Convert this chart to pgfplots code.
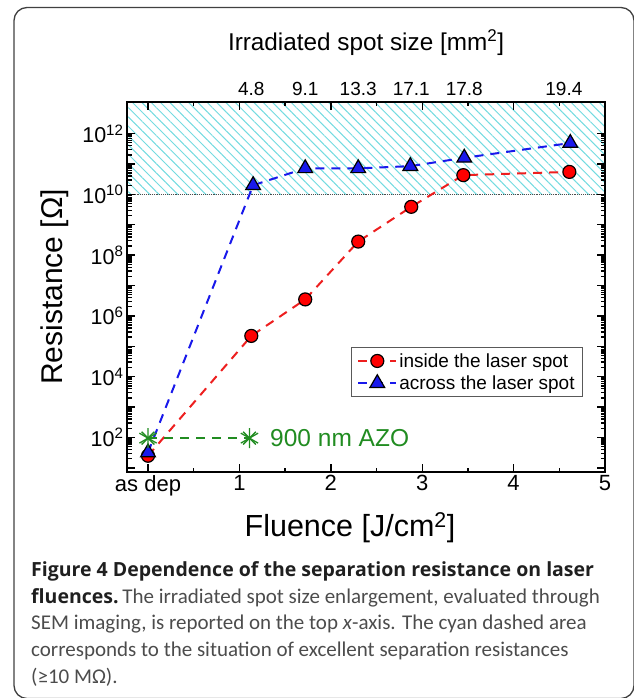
\documentclass[border=0pt]{standalone}
\usepackage{pgfplots}
\pgfplotsset{compat=1.18}
\usepackage{fontspec}
\setmainfont{Liberation Sans}
\newfontfamily\capreg{Carlito}
\newfontfamily\capbold{Open Sans}
\usetikzlibrary{patterns.meta}

\definecolor{rline}{rgb}{0.93,0.12,0.12}
\definecolor{bline}{rgb}{0.1,0.1,0.92}
\definecolor{gline}{rgb}{0.13,0.55,0.13}
\definecolor{hatch}{rgb}{0.45,0.86,0.88}
\definecolor{framec}{gray}{0.25}
\definecolor{captxt}{gray}{0.3}
\definecolor{capbf}{gray}{0.12}

\begin{document}
\begin{tikzpicture}[x=1pt,y=1pt]
\useasboundingbox (0,0) rectangle (633,698);
% outer frame, runs off the right and bottom edges
\draw[framec, line width=1.3pt, rounded corners=13pt] (14,-0.5) rectangle (634,690.5);

\begin{axis}[
  at={(127pt,226pt)}, anchor=south west,
  scale only axis, width=478pt, height=370pt,
  xmin=-0.23, xmax=5,
  ymode=log, ymin=7.3, ymax=1.1e13,
  axis line style={line width=2.2pt},
  axis on top,
  xtick={0,1,2,3,4,5},
  xticklabels={as dep,1,2,3,4,5},
  minor xtick={0.5,1.5,2.5,3.5,4.5},
  ytickten={1,...,12},
  yticklabels={,10\textsuperscript{2},,10\textsuperscript{4},,10\textsuperscript{6},,10\textsuperscript{8},,10\textsuperscript{10},,10\textsuperscript{12}},
  tick style={black, line width=1.4pt},
  major tick length=8pt, minor tick length=4.5pt,
  tick align=inside,
  x tick label style={font=\fontsize{22}{25}\selectfont},
  y tick label style={font=\fontsize{21.5}{24}\selectfont},
  legend style={at={(0.954,0.338)}, anchor=north east, draw=gray!70!black,
    line width=0.8pt, font=\fontsize{19}{23}\selectfont, row sep=3pt,
    inner xsep=6pt, inner ysep=4pt},
  legend cell align=left,
  legend image code/.code={\draw[mark repeat=2,mark phase=2,#1]
    plot coordinates {(0pt,0pt)(19pt,0pt)(38pt,0pt)};},
]
% region of excellent separation resistance
\fill[pattern={Lines[angle=-45,distance=6.6pt,line width=1pt]}, pattern color=hatch]
  (axis cs:-0.23,1e10) rectangle (axis cs:5,1.1e13);
\draw[densely dotted, line width=0.9pt, black!70] (axis cs:-0.23,1e10) -- (axis cs:5,1e10);

\addplot[rline, line width=2pt, dash pattern=on 9pt off 7pt, mark=*, mark size=6.5pt,
  mark options={solid, fill=red, draw=black, line width=1.2pt}] table {
x y
0 25
1.13 2.2e5
1.72 3.5e6
2.30 2.8e8
2.88 3.9e9
3.45 4.3e10
4.61 5.5e10
};
\addlegendentry{inside the laser spot}

\addplot[bline, line width=2pt, dash pattern=on 9pt off 7pt, mark=triangle*, mark size=8.5pt,
  mark options={solid, fill=bline, draw=black, line width=1.2pt}] table {
x y
0 32
1.15 2.0e10
1.72 7.2e10
2.30 7.2e10
2.87 8.5e10
3.46 1.6e11
4.62 4.9e11
};
\addlegendentry{across the laser spot}

\addplot[gline, line width=2pt, dash pattern=on 9pt off 7pt, mark=asterisk, mark size=10pt,
  mark options={solid, line width=1.3pt}, forget plot] table {
x y
0 95
1.11 95
};
\addplot[gline, only marks, mark=x, mark size=9pt,
  mark options={line width=1.3pt}, forget plot] table {
x y
0 95
1.11 95
};
\node[gline, anchor=west, inner sep=0pt, font=\fontsize{24.5}{28}\selectfont]
  at (axis cs:1.335,95) {900 nm AZO};
\end{axis}

% top axis: irradiated spot size
\begin{axis}[
  at={(127pt,226pt)}, anchor=south west,
  scale only axis, width=478pt, height=370pt,
  xmin=-0.23, xmax=5, ymin=0, ymax=1,
  axis x line*=top, axis y line=none,
  axis line style={draw=none},
  xtick={1.13,1.72,2.30,2.88,3.46,4.55},
  xticklabels={4.8,9.1,13.3,17.1,17.8,19.4},
  major tick length=0pt,
  x tick label style={font=\fontsize{19}{22}\selectfont, yshift=3pt},
]
\end{axis}

% axis titles
\node[anchor=base, font=\fontsize{24.3}{28}\selectfont] at (366,647) {Irradiated spot size [mm\textsuperscript{2}]};
\node[anchor=base, font=\fontsize{30.5}{34}\selectfont] at (350,161) {Fluence [J/cm\textsuperscript{2}]};
\node[anchor=base, rotate=90, font=\fontsize{30}{34}\selectfont] at (62,411) {Resistance [Ω]};

% caption
\begin{scope}[every node/.style={anchor=base west, inner sep=0pt}]
\node[capbf, font=\capbold\bfseries\fontsize{19.5}{24}\selectfont] at (31,121)
  {Figure 4 Dependence of the separation resistance on laser};
\node at (31,94) {{\capbold\bfseries\fontsize{19.5}{24}\selectfont\color{capbf}fluences.}
  {\capreg\fontsize{21}{24}\selectfont\color{captxt}The irradiated spot size enlargement, evaluated through}};
\node[captxt, font=\capreg\fontsize{21}{24}\selectfont] at (31,68)
  {SEM imaging, is reported on the top \textit{x}-axis. The cyan dashed area};
\node[captxt, font=\capreg\fontsize{21}{24}\selectfont] at (31,41)
  {corresponds to the situation of excellent separation resistances};
\node[captxt, font=\capreg\fontsize{21}{24}\selectfont] at (31,14) {(≥10 MΩ).};
\end{scope}
\end{tikzpicture}
\end{document}
